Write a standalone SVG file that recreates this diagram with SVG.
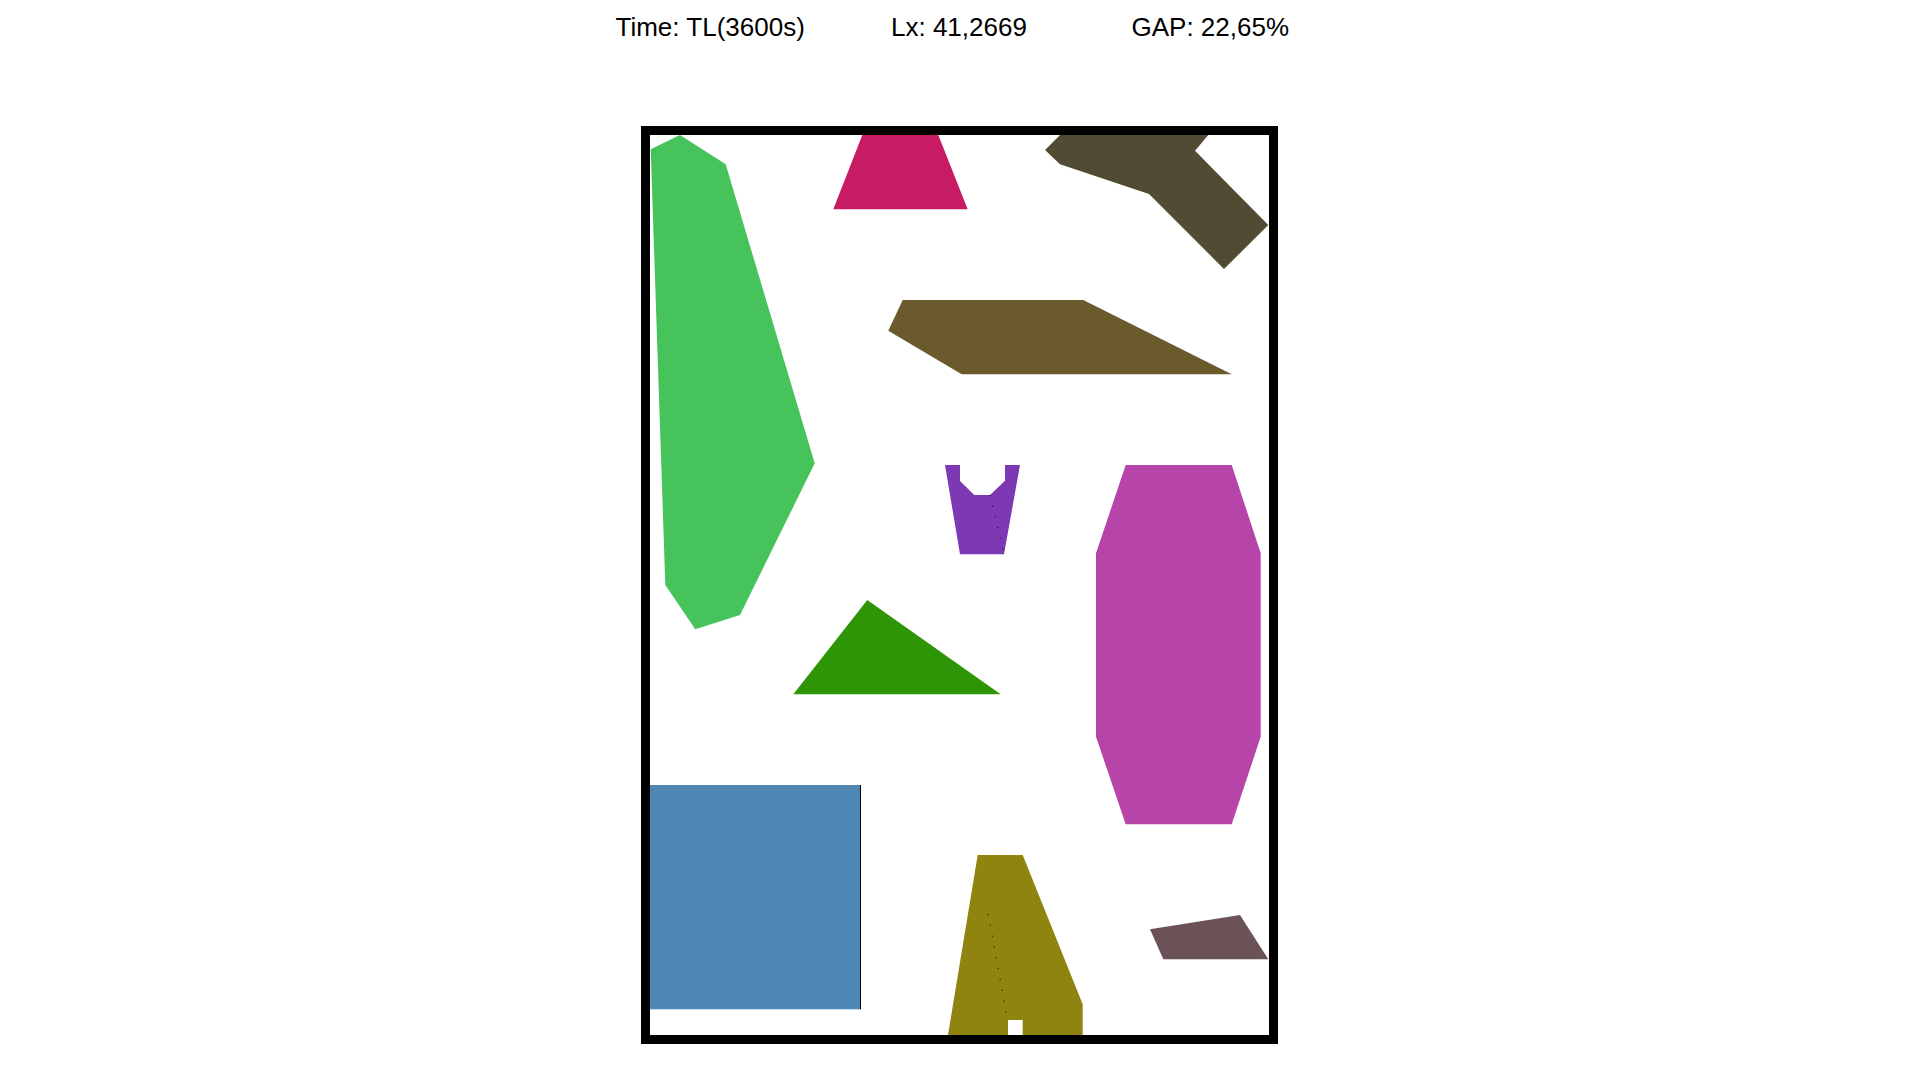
<svg xmlns="http://www.w3.org/2000/svg" width="1920" height="1080" viewBox="0 0 1920 1080">
<style>
.t{font-family:"Liberation Sans",Arial,sans-serif;font-size:26px;fill:#000}
.frame{fill:none;stroke:#000;stroke-width:9}
.seam{fill:none;stroke:#000;stroke-width:1;stroke-dasharray:1 10}
</style>
<rect width="1920" height="1080" fill="#fff"/>
<g id="header">
<text class="t" x="615.5" y="36">Time: TL(3600s)</text>
<text class="t" x="891" y="36">Lx: 41,2669</text>
<text class="t" x="1131.5" y="36">GAP: 22,65%</text>
</g>
<g id="pieces">
<polygon id="p-green" fill="#47C35B" points="650.7,149.3 680,135 725.7,164.3 814.7,463.3 740,615 695.3,629.3 665.3,585"/>
<polygon id="p-pink" fill="#C71B63" points="862.3,135 938.3,135 967.7,209.3 833.3,209.3"/>
<polygon id="p-darkolive" fill="#524B33" points="1060,135 1208.3,135 1195,150.7 1268.3,225 1224,269 1149,194 1060,164.3 1045,150"/>
<polygon id="p-brown" fill="#6B5A2C" points="902.7,300 1083.3,300 1231.7,374.3 961.7,374.3 888.3,330.7"/>
<polygon id="p-purple" fill="#7D38B4" points="945,465 960,465 960,481 974.3,495 990,495 1005,480.7 1005,465 1020,465 1004,554.3 960,554.3"/>
<polygon id="p-darkgreen" fill="#2E9606" points="867.3,600 1000.7,694.3 793.3,694.3"/>
<polygon id="p-magenta" fill="#B745A9" points="1125.7,465 1231.7,465 1260.7,553.3 1260.7,736.7 1231.7,824.3 1125.7,824.3 1096,736.7 1096,553.3"/>
<rect id="p-blue" x="650" y="785" width="210" height="224.3" fill="#4F87B4"/>
<line x1="860.5" y1="785" x2="860.5" y2="1009.3" stroke="#000" stroke-width="1"/>
<polygon id="p-olive" fill="#8E840F" points="977.7,855 1022.7,855 1082.7,1004.3 1082.7,1035 1022.7,1035 1022.7,1020 1008,1020 1008,1035 948,1035"/>
<polygon id="p-mauve" fill="#6A5257" points="1150,929.3 1240,915 1268.3,959.3 1163.3,959.3"/>
</g>
<g id="connectors">
<line class="seam" x1="990" y1="495" x2="1004" y2="554"/>
<line class="seam" x1="988.3" y1="914" x2="1006.3" y2="1013.3"/>
</g>
<rect id="container" class="frame" x="645.5" y="130.5" width="628" height="909"/>
</svg>
